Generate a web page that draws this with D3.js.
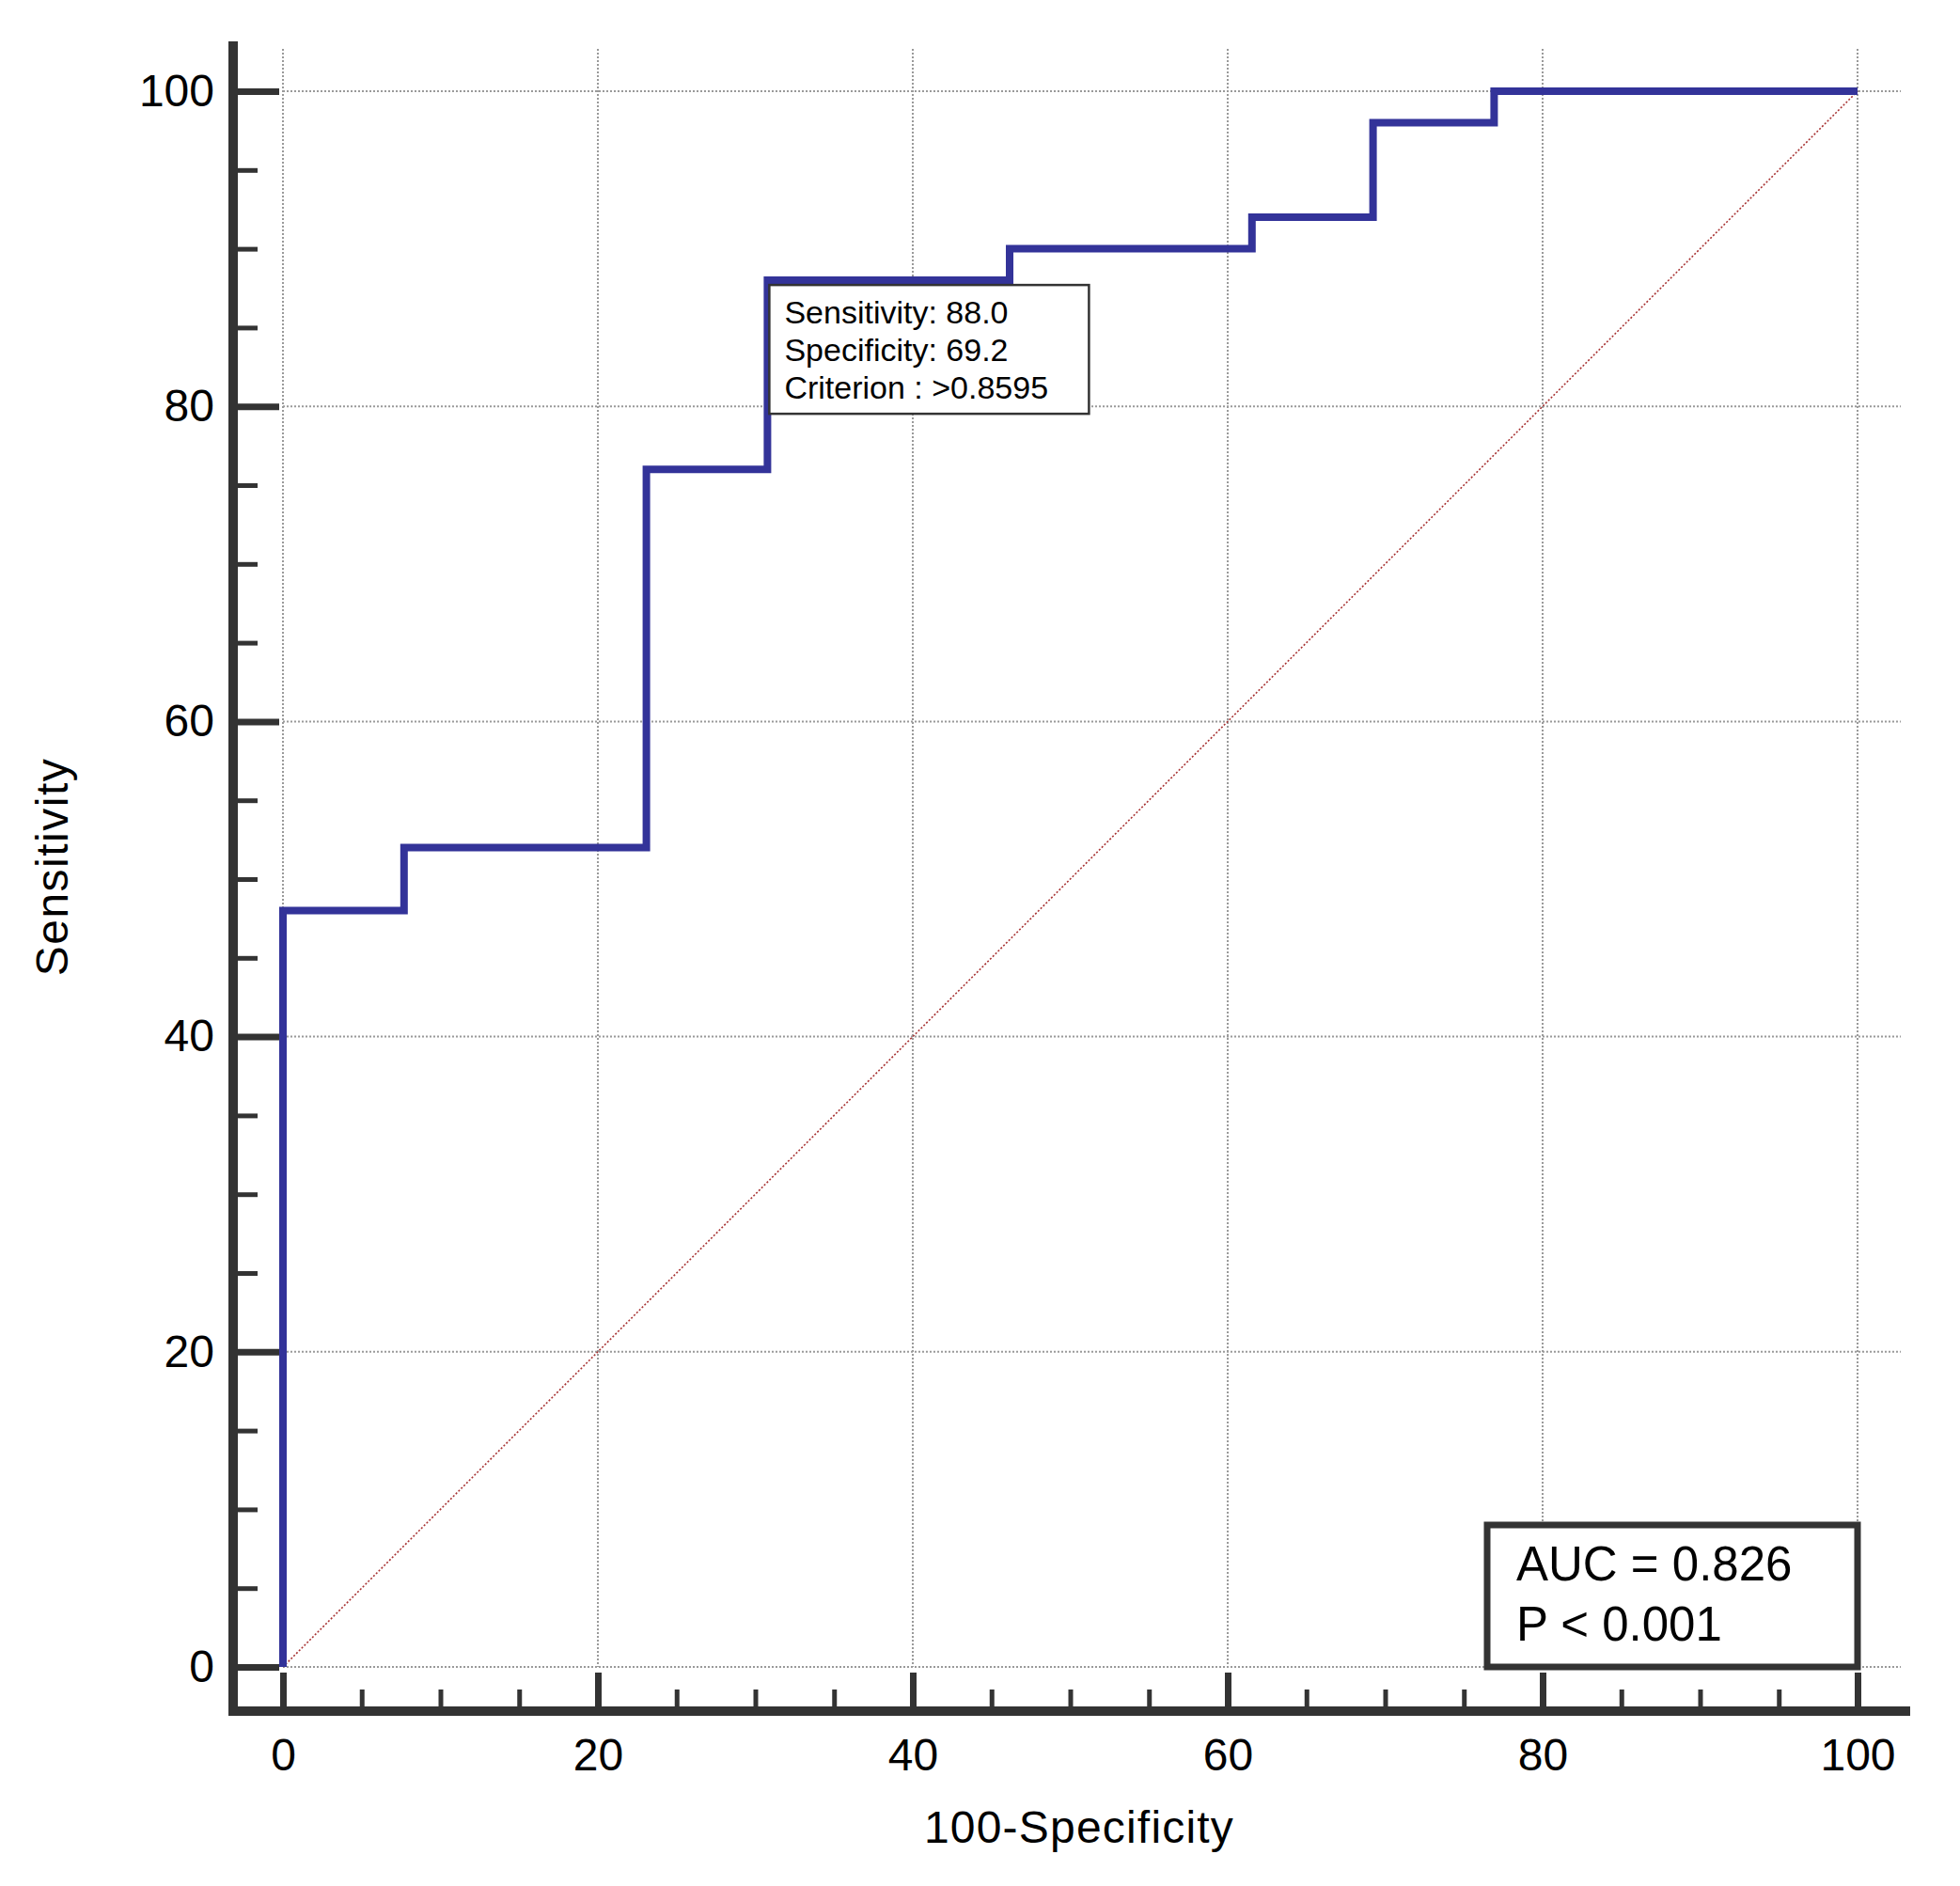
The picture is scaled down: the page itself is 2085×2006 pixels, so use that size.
<!DOCTYPE html>
<html>
<head>
<meta charset="utf-8">
<script src="https://cdn.jsdelivr.net/npm/d3@7"></script>
<style>
  body { margin: 0; background: #fff; }
  svg { display: block; font-family: "Liberation Sans", Arial, sans-serif; }
  .tick text { fill: #000; font-size: 48px; }
</style>
</head>
<body>
<svg id="chart"></svg>
<script>
// ROC points (100-specificity, sensitivity), drawn as a step curve
const fpr = [0, 0, 7.69, 23.08, 30.77, 46.15, 61.54, 69.23, 76.92, 100];
const sens = [0, 48, 52, 76, 88, 90, 92, 98, 100, 100];

const majorTicks = [0, 20, 40, 60, 80, 100];
const minorTicks = d3.range(0, 101, 5);

const cutoff = { fpr: 30.77, sens: 88 };
const cutoffLines = ['Sensitivity: 88.0', 'Specificity: 69.2', 'Criterion : >0.8595'];
const statLines = ['AUC = 0.826', 'P < 0.001'];

const W = 2085, H = 2006;
const svg = d3.select('#chart').attr('width', W).attr('height', H);

// plot area (data 0..100 on both axes)
const x = d3.scaleLinear().domain([0, 100]).range([301, 1976]);
const y = d3.scaleLinear().domain([0, 100]).range([1773, 97]);

const axisX = 248;   // centre of the vertical axis bar
const axisY = 1820;  // centre of the horizontal axis bar

// Grid lines
const grid = svg.append('g')
  .attr('stroke', '#9a9a9a')
  .attr('stroke-width', 2)
  .attr('stroke-dasharray', '2,2');

grid.selectAll('.hgrid')
  .data(majorTicks)
  .enter()
  .append('line')
  .attr('x1', x(0))
  .attr('x2', x(100) + 46)
  .attr('y1', d => y(d))
  .attr('y2', d => y(d));

grid.selectAll('.vgrid')
  .data(majorTicks)
  .enter()
  .append('line')
  .attr('x1', d => x(d))
  .attr('x2', d => x(d))
  .attr('y1', y(100) - 45)
  .attr('y2', y(0));

// Reference diagonal
svg.append('line')
  .attr('x1', x(0)).attr('y1', y(0))
  .attr('x2', x(100)).attr('y2', y(100))
  .attr('stroke', '#a83434')
  .attr('stroke-width', 1.6)
  .attr('stroke-dasharray', '2,2');

// ROC curve
const line = d3.line()
  .x((d, i) => x(fpr[i]))
  .y(d => y(d))
  .curve(d3.curveStepAfter);

svg.append('path')
  .datum(sens)
  .attr('d', line)
  .attr('fill', 'none')
  .attr('stroke', '#333399')
  .attr('stroke-width', 8);

// Y axis: minor then major ticks pointing into the plot
svg.append('g')
  .attr('transform', `translate(${axisX + 5},0)`)
  .call(d3.axisLeft(y).tickValues(minorTicks).tickSize(-21).tickFormat(''))
  .call(g => g.select('.domain').remove())
  .call(g => g.selectAll('.tick line').attr('stroke', '#333').attr('stroke-width', 5));

svg.append('g')
  .attr('transform', `translate(${axisX + 5},0)`)
  .call(d3.axisLeft(y).tickValues(majorTicks).tickSize(-44).tickPadding(25).tickFormat(d3.format('d')))
  .call(g => g.select('.domain').remove())
  .call(g => g.selectAll('.tick line').attr('stroke', '#333').attr('stroke-width', 7));

// X axis
svg.append('g')
  .attr('transform', `translate(0,${axisY - 5})`)
  .call(d3.axisBottom(x).tickValues(minorTicks).tickSize(-18).tickFormat(''))
  .call(g => g.select('.domain').remove())
  .call(g => g.selectAll('.tick line').attr('stroke', '#333').attr('stroke-width', 5));

svg.append('g')
  .attr('transform', `translate(0,${axisY - 5})`)
  .call(d3.axisBottom(x).tickValues(majorTicks).tickSize(-36).tickPadding(34).tickFormat(d3.format('d')))
  .call(g => g.select('.domain').remove())
  .call(g => g.selectAll('.tick line').attr('stroke', '#333').attr('stroke-width', 7));

// Axis bars
svg.append('line')
  .attr('x1', axisX).attr('x2', axisX)
  .attr('y1', 44).attr('y2', axisY + 5)
  .attr('stroke', '#333').attr('stroke-width', 10);

svg.append('line')
  .attr('x1', axisX - 5).attr('x2', 2032)
  .attr('y1', axisY).attr('y2', axisY)
  .attr('stroke', '#333').attr('stroke-width', 10);

// Axis titles
svg.append('text')
  .attr('x', 1148)
  .attr('y', 1960)
  .attr('text-anchor', 'middle')
  .style('font-size', '48px')
  .style('letter-spacing', '1.2px')
  .text('100-Specificity');

svg.append('text')
  .attr('transform', 'translate(72,922) rotate(-90)')
  .attr('text-anchor', 'middle')
  .style('font-size', '48px')
  .style('letter-spacing', '1.5px')
  .text('Sensitivity');

// Cut-off annotation box
const tip = svg.append('g')
  .attr('transform', `translate(${x(cutoff.fpr) + 2},${y(cutoff.sens) + 5})`);

tip.append('rect')
  .attr('width', 340)
  .attr('height', 137)
  .attr('fill', '#fff')
  .attr('stroke', '#333')
  .attr('stroke-width', 2.5);

tip.selectAll('text')
  .data(cutoffLines)
  .enter()
  .append('text')
  .attr('x', 16)
  .attr('y', (d, i) => 41 + i * 40)
  .style('font-size', '34px')
  .text(d => d);

// AUC box, anchored to the bottom-right corner of the plot
const boxW = 394, boxH = 151;
const stat = svg.append('g')
  .attr('transform', `translate(${x(100) - boxW},${y(0) - boxH})`);

stat.append('rect')
  .attr('width', boxW)
  .attr('height', boxH)
  .attr('fill', '#fff')
  .attr('stroke', '#333')
  .attr('stroke-width', 7);

stat.selectAll('text')
  .data(statLines)
  .enter()
  .append('text')
  .attr('x', 31)
  .attr('y', (d, i) => 59 + i * 64)
  .style('font-size', '51px')
  .text(d => d);
</script>
</body>
</html>
